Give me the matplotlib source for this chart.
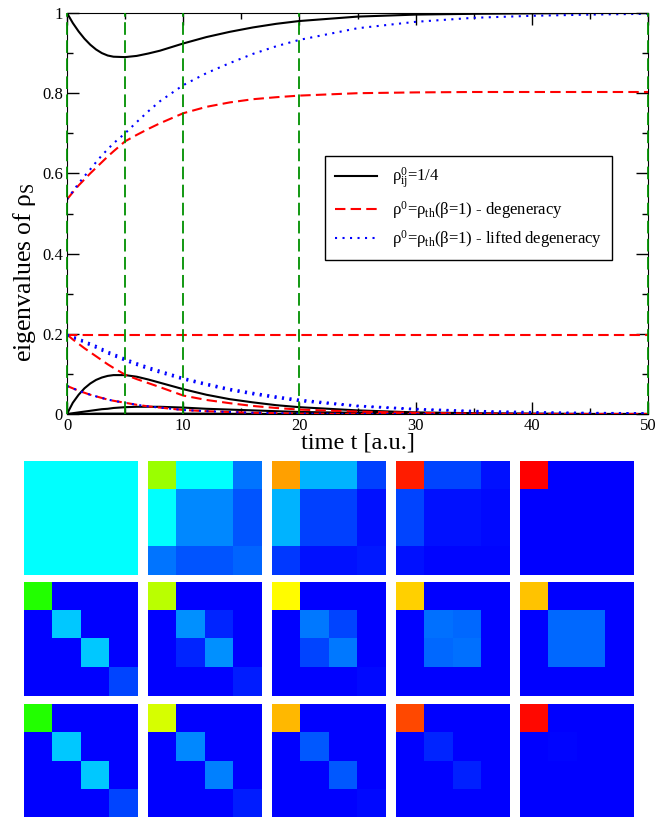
import numpy as np
import matplotlib
matplotlib.use('Agg')
import matplotlib.pyplot as plt
from matplotlib.colors import LinearSegmentedColormap

plt.rcParams['font.family'] = ['Liberation Serif', 'DejaVu Serif']
plt.rcParams['mathtext.fontset'] = 'custom'
plt.rcParams['mathtext.rm'] = 'Liberation Serif'
plt.rcParams['mathtext.it'] = 'Liberation Serif'
plt.rcParams['mathtext.bf'] = 'Liberation Serif:bold'

# time grid
t = [0, 0.5, 1, 1.5, 2, 2.5, 3, 3.5, 4, 5, 6, 7, 8, 10, 12, 14, 16, 18, 20, 25, 30, 35, 40, 45, 50]

# rho0_ij = 1/4 (black)
black1 = [1.0, 0.975, 0.954, 0.936, 0.921, 0.909, 0.900, 0.894, 0.891, 0.890, 0.893, 0.899, 0.906, 0.924, 0.940, 0.953, 0.964, 0.973, 0.980, 0.991, 0.996, 0.998, 0.999, 1.0, 1.0]
black2 = [0.0, 0.028, 0.048, 0.064, 0.076, 0.085, 0.091, 0.095, 0.097, 0.097, 0.093, 0.086, 0.078, 0.062, 0.048, 0.037, 0.029, 0.022, 0.017, 0.009, 0.004, 0.002, 0.001, 0.0, 0.0]
black3 = [0.0, 0.002, 0.004, 0.006, 0.008, 0.010, 0.012, 0.013, 0.015, 0.017, 0.018, 0.018, 0.018, 0.016, 0.013, 0.011, 0.009, 0.007, 0.005, 0.003, 0.001, 0.0, 0.0, 0.0, 0.0]
black4 = [0.0, 0.0, 0.0, 0.0005, 0.0005, 0.001, 0.001, 0.001, 0.001, 0.001, 0.001, 0.001, 0.001, 0.001, 0.001, 0.0005, 0.0005, 0.0, 0.0, 0.0, 0.0, 0.0, 0.0, 0.0, 0.0]

# rho0 = rho_th(beta=1), degeneracy (red)
red1 = [0.535, 0.553, 0.570, 0.585, 0.600, 0.614, 0.628, 0.642, 0.655, 0.680, 0.696, 0.711, 0.725, 0.750, 0.766, 0.777, 0.785, 0.790, 0.794, 0.800, 0.802, 0.803, 0.803, 0.803, 0.803]
red2 = [0.197] * len(t)
red3 = [0.198, 0.186, 0.175, 0.164, 0.154, 0.144, 0.134, 0.124, 0.115, 0.098, 0.087, 0.077, 0.067, 0.046, 0.035, 0.027, 0.020, 0.015, 0.011, 0.006, 0.003, 0.001, 0.0, 0.0, 0.0]
red4 = [0.070, 0.064, 0.058, 0.053, 0.048, 0.044, 0.040, 0.036, 0.033, 0.028, 0.023, 0.019, 0.016, 0.010, 0.007, 0.005, 0.003, 0.002, 0.001, 0.0, 0.0, 0.0, 0.0, 0.0, 0.0]

# rho0 = rho_th(beta=1), lifted degeneracy (blue)
blue1 = [0.535, 0.555, 0.575, 0.593, 0.610, 0.628, 0.645, 0.660, 0.675, 0.700, 0.728, 0.755, 0.780, 0.820, 0.850, 0.875, 0.898, 0.917, 0.933, 0.962, 0.978, 0.988, 0.993, 0.996, 0.998]
blue2 = [0.198, 0.193, 0.188, 0.182, 0.176, 0.170, 0.163, 0.156, 0.150, 0.138, 0.127, 0.117, 0.108, 0.090, 0.076, 0.063, 0.053, 0.044, 0.036, 0.021, 0.013, 0.008, 0.005, 0.003, 0.002]
blue3 = [0.196, 0.190, 0.184, 0.178, 0.171, 0.165, 0.158, 0.151, 0.145, 0.133, 0.122, 0.112, 0.103, 0.086, 0.072, 0.059, 0.049, 0.040, 0.032, 0.019, 0.011, 0.006, 0.003, 0.002, 0.001]
blue4 = [0.070, 0.064, 0.058, 0.053, 0.048, 0.044, 0.040, 0.036, 0.033, 0.028, 0.023, 0.019, 0.016, 0.010, 0.007, 0.005, 0.003, 0.002, 0.001, 0.0, 0.0, 0.0, 0.0, 0.0, 0.0]

# snapshot times (green dashed lines)
t_snap = [0, 5, 10, 20, 50]

# density matrices |rho_ij| at the snapshot times
rho_pure = [
    [[0.25, 0.25, 0.25, 0.25], [0.25, 0.25, 0.25, 0.25], [0.25, 0.25, 0.25, 0.25], [0.25, 0.25, 0.25, 0.25]],
    [[0.65, 0.25, 0.25, 0.117], [0.25, 0.133, 0.133, 0.083], [0.25, 0.133, 0.133, 0.083], [0.117, 0.083, 0.083, 0.10]],
    [[0.843, 0.176, 0.176, 0.063], [0.176, 0.063, 0.063, 0.016], [0.176, 0.063, 0.063, 0.016], [0.055, 0.016, 0.016, 0.024]],
    [[0.969, 0.07, 0.07, 0.016], [0.07, 0.016, 0.016, 0.008], [0.07, 0.016, 0.016, 0.008], [0.016, 0.005, 0.005, 0.005]],
    [[1.0, 0.002, 0.002, 0.0], [0.002, 0.0, 0.0, 0.0], [0.002, 0.0, 0.0, 0.0], [0.0, 0.0, 0.0, 0.0]],
]
rho_deg = [
    [[0.533, 0, 0, 0], [0, 0.196, 0, 0], [0, 0, 0.196, 0], [0, 0, 0, 0.07]],
    [[0.68, 0, 0, 0], [0, 0.141, 0.039, 0], [0, 0.039, 0.141, 0], [0, 0, 0, 0.031]],
    [[0.75, 0, 0, 0], [0, 0.118, 0.07, 0], [0, 0.07, 0.118, 0], [0, 0, 0, 0.008]],
    [[0.796, 0, 0, 0], [0, 0.11, 0.102, 0], [0, 0.102, 0.11, 0], [0, 0, 0, 0.002]],
    [[0.808, 0, 0, 0], [0, 0.102, 0.102, 0], [0, 0.102, 0.102, 0], [0, 0, 0, 0.0]],
]
rho_lift = [
    [[0.533, 0, 0, 0], [0, 0.196, 0, 0], [0, 0, 0.196, 0], [0, 0, 0, 0.07]],
    [[0.708, 0, 0, 0], [0, 0.133, 0, 0], [0, 0, 0.125, 0], [0, 0, 0, 0.031]],
    [[0.82, 0, 0, 0], [0, 0.086, 0, 0], [0, 0, 0.086, 0], [0, 0, 0, 0.008]],
    [[0.929, 0, 0, 0], [0, 0.039, 0, 0], [0, 0, 0.035, 0], [0, 0, 0, 0.001]],
    [[0.992, 0, 0, 0], [0, 0.004, 0, 0], [0, 0, 0.002, 0], [0, 0, 0, 0.0]],
]

fig = plt.figure(figsize=(6.62, 8.17), dpi=100)
W, H = 662.0, 817.0

# --- top panel: eigenvalues ---
ax = fig.add_axes([67 / W, 1 - 414 / H, 581 / W, 401 / H])

for x in t_snap:
    ax.axvline(x, color='#009000', lw=1.3, ls=(0, (7, 3)), zorder=5, clip_on=False)

lw = 1.5
dash = (0, (5, 2.5))
dots = (0, (1, 2.6))
ax.plot(t, black1, color='black', lw=lw, label=r'$\rho^{0}_{ij}$=1/4')
for y in (black2, black3, black4):
    ax.plot(t, y, color='black', lw=lw)
ax.plot(t, red1, color='red', lw=lw, ls=dash, label=r'$\rho^{0}$=$\rho_{th}$($\beta$=1) - degeneracy')
for y in (red2, red3, red4):
    ax.plot(t, y, color='red', lw=lw, ls=dash)
ax.plot(t, blue1, color='blue', lw=lw, ls=dots, label=r'$\rho^{0}$=$\rho_{th}$($\beta$=1) - lifted degeneracy')
for y in (blue2, blue3, blue4):
    ax.plot(t, y, color='blue', lw=lw, ls=dots)

ax.set_xlim(0, 50)
ax.set_ylim(0, 1)
ax.set_xticks([0, 10, 20, 30, 40, 50])
ax.set_xticks(np.arange(0, 51, 5), minor=True)
ax.set_yticks([0, 0.2, 0.4, 0.6, 0.8, 1.0])
ax.set_yticklabels(['0', '0.2', '0.4', '0.6', '0.8', '1'])
ax.set_yticks(np.arange(0, 1.01, 0.1), minor=True)
ax.tick_params(which='both', direction='in', top=True, right=True, labelsize=12, pad=3)
ax.tick_params(which='major', length=8.5, width=1)
ax.tick_params(which='minor', length=4.3, width=1)
ax.set_xlabel('time t [a.u.]', fontsize=17.5, labelpad=-1)
ax.set_ylabel(r'eigenvalues of $\rho_{S}$', fontsize=18.5, labelpad=2)
ax.yaxis.set_label_coords(-0.05, 0.354)

leg = ax.legend(loc='upper left', bbox_to_anchor=(0.444, 0.643), borderaxespad=0,
                fontsize=12, fancybox=False, framealpha=1, edgecolor='black',
                handlelength=2.5, handletextpad=0.9, labelspacing=0.45, borderpad=0.6)
leg.get_frame().set_linewidth(1.0)

# --- bottom: matrix snapshots ---
cmap = LinearSegmentedColormap.from_list('hue', ['#0000ff', '#00ffff', '#00ff00', '#ffff00', '#ff0000'])
col_left = [24, 148, 272, 396, 520]
row_top = [461, 582, 704]
for r, mats in enumerate((rho_pure, rho_deg, rho_lift)):
    for c, m in enumerate(mats):
        a = fig.add_axes([col_left[c] / W, 1 - (row_top[r] + 114) / H, 114 / W, 114 / H])
        a.imshow(np.array(m), cmap=cmap, vmin=0, vmax=1, aspect='auto', interpolation='nearest')
        a.axis('off')

fig.savefig('out.png', dpi=100)
